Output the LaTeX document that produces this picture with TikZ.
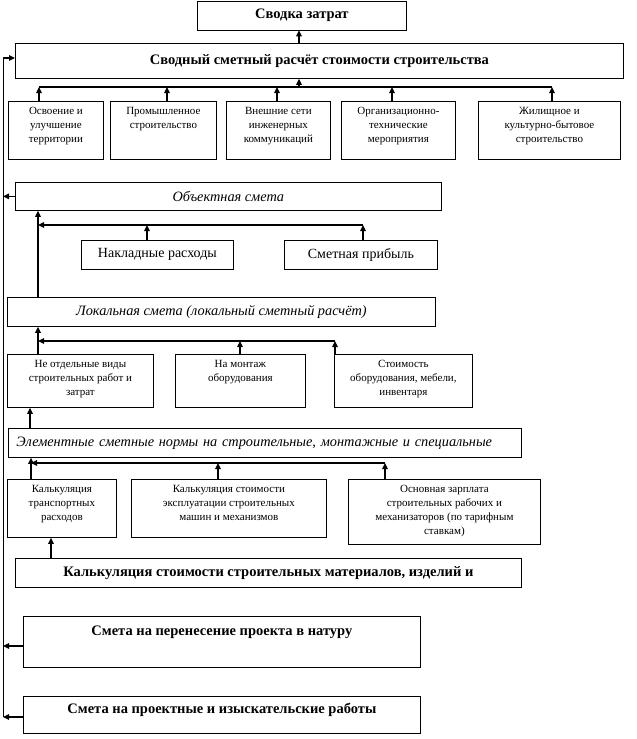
\documentclass[tikz,border=0pt]{standalone}
\usepackage{fontspec}
\setmainfont{Liberation Serif}
\usetikzlibrary{arrows.meta}
\newcommand\tb[4][6]{\parbox[c][#3pt][t]{#2pt}{\centering\vspace*{#1pt}#4\par}}
\begin{document}
\begin{tikzpicture}[x=1pt,y=-1pt,
  box/.style={draw,line width=0.8pt,anchor=north west,inner sep=0pt},
  sbox/.style={box,font=\fontsize{11}{14}\selectfont},
  bbox/.style={box,font=\fontsize{14.5}{17}\selectfont\bfseries},
  ibox/.style={box,font=\fontsize{14.3}{17}\selectfont\itshape},
  rbox/.style={box,font=\fontsize{14}{17}\selectfont},
  arr/.style={line width=1.2pt,-{Triangle[length=6pt,width=5.5pt]}},
  bus/.style={line width=1.2pt},
  thin/.style={line width=0.8pt}]
\useasboundingbox (0,0) rectangle (637,739);
% boxes
\node[bbox,minimum width=209pt,minimum height=29pt] (A) at (197,0.5) {Сводка затрат};
\node[bbox,minimum width=608pt,minimum height=35pt] (B) at (15,43) {Сводный сметный расчёт стоимости строительства};
\node[sbox] (c1) at (8,101) {\tb{95}{58}{Освоение и\\улучшение\\территории}};
\node[sbox] (c2) at (110,101) {\tb{106}{58}{Промышленное\\строительство}};
\node[sbox] (c3) at (226,101) {\tb{104}{58}{Внешние сети\\инженерных\\коммуникаций}};
\node[sbox] (c4) at (341,101) {\tb{114}{58}{Организационно-\\технические\\мероприятия}};
\node[sbox] (c5) at (478,101) {\tb{142}{58}{Жилищное и\\культурно-бытовое\\строительство}};
\node[ibox,minimum width=426pt,minimum height=28pt] (D) at (15,182) {Объектная смета};
\node[rbox,minimum width=152pt,minimum height=29pt] (E) at (81,240) {Накладные расходы};
\node[rbox,minimum width=153pt,minimum height=29pt] (F) at (284,240) {Сметная прибыль};
\node[ibox,minimum width=428pt,minimum height=29pt] (G) at (7,297) {Локальная смета (локальный сметный расчёт)};
\node[sbox] (h1) at (7,354) {\tb{146}{53}{Не отдельные виды\\строительных работ и\\затрат}};
\node[sbox] (h2) at (175,354) {\tb{130}{53}{На монтаж\\оборудования}};
\node[sbox] (h3) at (334,354) {\tb{138}{53}{Стоимость\\оборудования, мебели,\\инвентаря}};
\node[ibox,minimum width=513pt,minimum height=29pt,inner xsep=8pt,text width=497pt,align=left] (I) at (8,428) {Элементные сметные нормы на строительные, монтажные и специальные};
\node[sbox] (j1) at (7,479) {\tb{109}{58}{Калькуляция\\транспортных\\расходов}};
\node[sbox] (j2) at (131,479) {\tb{195}{58}{Калькуляция стоимости\\эксплуатации строительных\\машин и механизмов}};
\node[sbox] (j3) at (348,479) {\tb{192}{65}{Основная зарплата\\строительных рабочих и\\механизаторов (по тарифным\\ставкам)}};
\node[bbox,minimum width=506pt,minimum height=29pt] (K) at (15,558) {Калькуляция стоимости строительных материалов, изделий и};
\node[bbox] (L) at (23,616) {\tb[9]{397}{51}{Смета на перенесение проекта в натуру}};
\node[bbox] (M) at (23,696) {\tb[7]{397}{37}{Смета на проектные и изыскательские работы}};
% left collector line
\coordinate (l0) at (3,58);
\coordinate (l1) at (3,717);
\draw[thin] (l0) -- (l1);
\draw[arr] (l0) -- (B.west |- l0);
\draw[arr] (D.west) -- (D.west -| l0);
\draw[arr] (L.west |- 0,646) -- (l0 |- 0,646);
\draw[arr] (M.west |- l1) -- (l1);
% top
\draw[arr] (B.north -| 299,0) -- (A.south -| 299,0);
\coordinate (b1l) at (39,87);
\coordinate (b1r) at (552,87);
\draw[bus] (b1l) -- (b1r);
\draw[arr] (b1l -| 299,0) -- (B.south -| 299,0);
\draw[arr] (c1.north -| b1l) -- (b1l);
\draw[arr] (c2.north -| 167,0) -- (b1l -| 167,0);
\draw[arr] (c3.north -| 277,0) -- (b1l -| 277,0);
\draw[arr] (c4.north -| 392,0) -- (b1l -| 392,0);
\draw[arr] (c5.north -| b1r) -- (b1r);
% object estimate
\coordinate (bdl) at (38,225);
\coordinate (bdr) at (363,225);
\draw[arr] (G.north -| bdl) -- (D.south -| bdl);
\draw[arr] (bdr) -- (bdl);
\draw[arr] (E.north -| 147,0) -- (bdl -| 147,0);
\draw[arr] (F.north -| bdr) -- (bdr);
% local estimate
\coordinate (bgl) at (38,341);
\coordinate (bgr) at (335,341);
\draw[arr] (h1.north -| bgl) -- (G.south -| bgl);
\draw[arr] (bgr) -- (bgl);
\draw[arr] (h2.north -| 240,0) -- (bgl -| 240,0);
\draw[arr] (h3.north -| bgr) -- (bgr);
% norms
\draw[arr] (I.north -| 30,0) -- (h1.south -| 30,0);
\coordinate (bil) at (31,463);
\coordinate (bir) at (385,463);
\draw[arr] (j1.north -| bil) -- (I.south -| bil);
\draw[arr] (bir) -- (bil);
\draw[arr] (j2.north -| 218,0) -- (bil -| 218,0);
\draw[arr] (j3.north -| bir) -- (bir);
\draw[arr] (K.north -| 51,0) -- (j1.south -| 51,0);
\end{tikzpicture}
\end{document}
